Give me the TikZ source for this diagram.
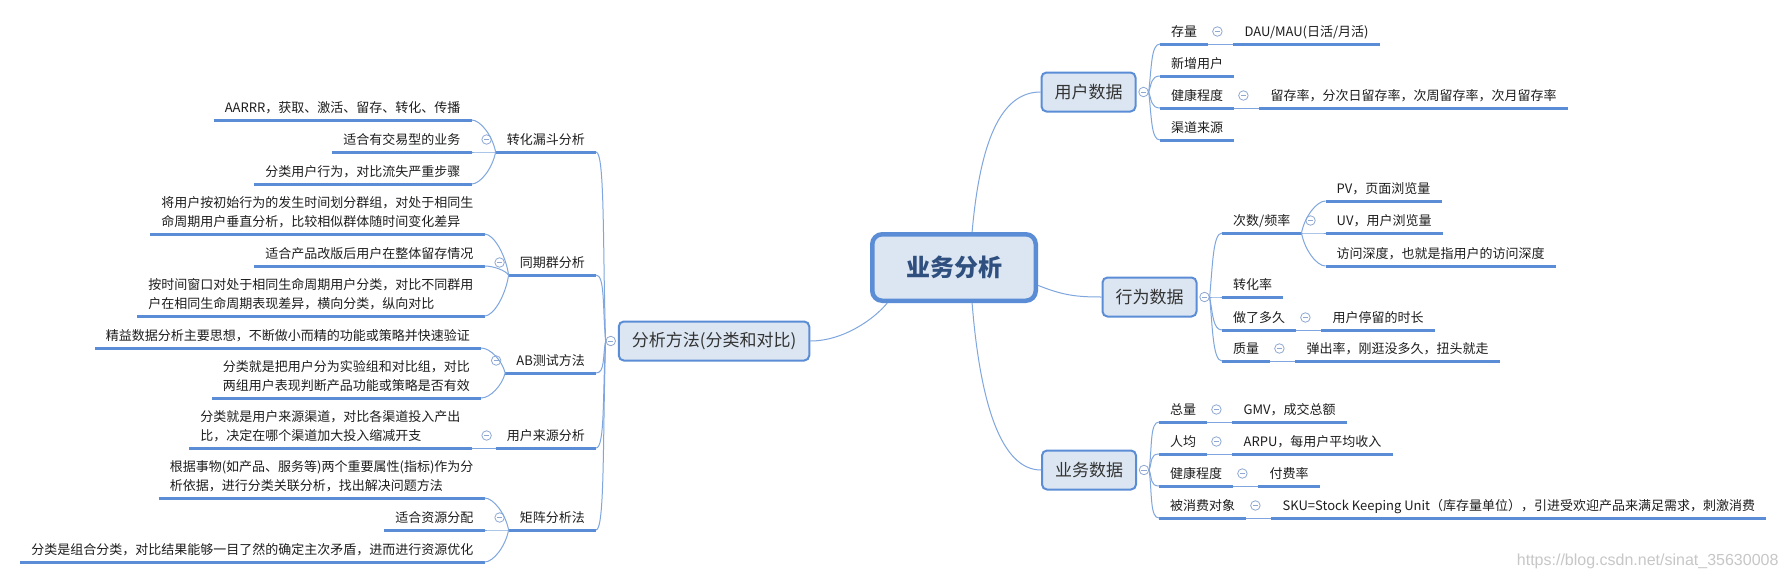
\documentclass[tikz,border=0pt]{standalone}
\usepackage{fontspec}
\newfontfamily\cjk{Noto Sans CJK SC}
\newfontfamily\wmfont{Liberation Sans}
\usepackage{tikz}
\usetikzlibrary{calc}
\usetikzlibrary{positioning}
\definecolor{lineblue}{HTML}{5B8DD6}
\definecolor{linkblue}{HTML}{7FA6DE}
\definecolor{boxfill}{HTML}{DCE6F2}
\definecolor{hubtext}{HTML}{2F4F7F}
\definecolor{boxtext}{HTML}{333333}
\definecolor{foldgray}{HTML}{8EA8D2}
\definecolor{inktext}{HTML}{1E1E1E}

\begin{document}
\begin{tikzpicture}[x=1pt,y=-1pt,font=\cjk\fontsize{13pt}{19pt}\selectfont,
      hub style/.style={rectangle,rounded corners=10pt,draw=lineblue,line width=4.5pt,
        fill=boxfill,minimum width=163.5pt,minimum height=66.5pt,text=hubtext,
        font=\cjk\bfseries\fontsize{24pt}{28pt}\selectfont},
      branch style/.style={rectangle,rounded corners=5pt,draw=lineblue,line width=2pt,
        fill=boxfill,inner xsep=13pt,minimum height=39pt,text=boxtext,
        font=\cjk\fontsize{17pt}{20pt}\selectfont},
      topic style/.style={inner xsep=11pt,inner ysep=4.5pt,align=left,text=inktext,
        execute at end node={\rule[-3pt]{0pt}{3pt}},
        append after command={\pgfextra{\let\topicnode\tikzlastnode}
          (\topicnode.south west) edge[uline style] (\topicnode.south east)}},
      uline style/.style={draw=lineblue,line width=3pt},
      link style/.style={draw=linkblue,line width=1pt},
      fold style/.style={circle,draw=foldgray,line width=0.8pt,fill=white,inner sep=0pt,
        minimum size=9.5pt,path picture={\draw[foldgray,line width=0.8pt]
          ([xshift=-2.6pt]path picture bounding box.center) --
          ([xshift=2.6pt]path picture bounding box.center);}},
      brace/.style={to path={let \p1=(\tikztostart),\p2=(\tikztotarget) in
        .. controls (\x1+3pt,{(\y1+\y2)/2}) and (\x2-9pt,\y2) .. (\tikztotarget)}},
      brace left/.style={to path={let \p1=(\tikztostart),\p2=(\tikztotarget) in
        .. controls (\x1-3pt,{(\y1+\y2)/2}) and (\x2+9pt,\y2) .. (\tikztotarget)}},
      mark style/.style={text=black!22,font=\wmfont\fontsize{16pt}{18pt}\selectfont}
      ]
      \path[use as bounding box,fill=white] (0,0) rectangle (1792,579);

      % centre and main branches
      \node[hub style] (hub) at (954,267.5) {业务分析};
      \node[branch style] (method) at (714,341) {分析方法(分类和对比)};
      \node[branch style] (user) at (1088.5,92) {用户数据};
      \node[branch style] (behav) at (1149.5,297) {行为数据};
      \node[branch style] (biz) at (1089,470) {业务数据};

      \draw[link style] (hub.63) .. controls +(8,-90) and +(-40,0) .. (user.west);
      \draw[link style] (hub.-12) .. controls +(25,10) and +(-25,0) .. (behav.west);
      \draw[link style] (hub.-63) .. controls +(8,100) and +(-40,0) .. (biz.west);
      \draw[link style] (hub.-152) .. controls +(-12,15) and +(34,0) .. (method.east);

      \node[fold style] (fold-method) at ($(method.west)+(-7,0)$) {};
      \node[fold style] (fold-user) at ($(user.east)+(7,0)$) {};
      \node[fold style] (fold-behav) at ($(behav.east)+(7,0)$) {};
      \node[fold style] (fold-biz) at ($(biz.east)+(7,0)$) {};

      % left side
      \node[topic style,anchor=south east] (fun) at (596,152) {转化漏斗分析};
      \node[topic style,anchor=south east] (cohort) at (596,275) {同期群分析};
      \node[topic style,anchor=south east] (abtest) at (596,373) {AB测试方法};
      \node[topic style,anchor=south east] (origin) at (596,448) {用户来源分析};
      \node[topic style,anchor=south east] (matrix) at (596,530) {矩阵分析法};

      \node[topic style,anchor=south east] (aarrr) at ($(fun.south west)+(-24,-32)$)
        {AARRR，获取、激活、留存、转化、传播};
      \node[topic style,anchor=south east] (trade) at ($(fun.south west)+(-24,0)$)
        {适合有交易型的业务};
      \node[topic style,anchor=south east] (steps) at ($(fun.south west)+(-24,32)$)
        {分类用户行为，对比流失严重步骤};

      \node[topic style,anchor=south east] (cohortdef) at ($(cohort.south west)+(-24,-41)$)
        {将用户按初始行为的发生时间划分群组，对处于相同生\\命周期用户垂直分析，比较相似群体随时间变化差异};
      \node[topic style,anchor=south east] (revision) at ($(cohort.south west)+(-24,-9)$)
        {适合产品改版后用户在整体留存情况};
      \node[topic style,anchor=south east] (window) at ($(cohort.south west)+(-24,41)$)
        {按时间窗口对处于相同生命周期用户分类，对比不同群用\\户在相同生命周期表现差异，横向分类，纵向对比};

      \node[topic style,anchor=south east] (lean) at ($(abtest.south west)+(-24,-25)$)
        {精益数据分析主要思想，不断做小而精的功能或策略并快速验证};
      \node[topic style,anchor=south east] (groups) at ($(abtest.south west)+(-24,25)$)
        {分类就是把用户分为实验组和对比组，对比\\两组用户表现判断产品功能或策略是否有效};

      \node[topic style,anchor=south east] (channel) at ($(origin.south west)+(-24,0)$)
        {分类就是用户来源渠道，对比各渠道投入产出\\比，决定在哪个渠道加大投入缩减开支};

      \node[topic style,anchor=south east] (attrs) at ($(matrix.south west)+(-24,-32)$)
        {根据事物(如产品、服务等)两个重要属性(指标)作为分\\析依据，进行分类关联分析，找出解决问题方法};
      \node[topic style,anchor=south east] (alloc) at ($(matrix.south west)+(-24,0)$)
        {适合资源分配};
      \node[topic style,anchor=south east] (combo) at ($(matrix.south west)+(-24,32)$)
        {分类是组合分类，对比结果能够一目了然的确定主次矛盾，进而进行资源优化};

      \node[fold style] (fold-fun) at ($(fun.south west)+(-9,-12.5)$) {};
      \node[fold style] (fold-cohort) at ($(cohort.south west)+(-9,-12.5)$) {};
      \node[fold style] (fold-abtest) at ($(abtest.south west)+(-9,-12.5)$) {};
      \node[fold style] (fold-origin) at ($(origin.south west)+(-9,-12.5)$) {};
      \node[fold style] (fold-matrix) at ($(matrix.south west)+(-9,-12.5)$) {};

      \draw[link style] (fold-method.west) to[brace left] (fun.south east);
      \draw[link style] (fold-method.west) to[brace left] (cohort.south east);
      \draw[link style] (fold-method.west) to[brace left] (abtest.south east);
      \draw[link style] (fold-method.west) to[brace left] (origin.south east);
      \draw[link style] (fold-method.west) to[brace left] (matrix.south east);

      \draw[link style] (fun.south west) to[brace left] (aarrr.south east);
      \draw[link style] (fun.south west) to[brace left] (trade.south east);
      \draw[link style] (fun.south west) to[brace left] (steps.south east);
      \draw[link style] (cohort.south west) to[brace left] (cohortdef.south east);
      \draw[link style] (cohort.south west) to[brace left] (revision.south east);
      \draw[link style] (cohort.south west) to[brace left] (window.south east);
      \draw[link style] (abtest.south west) to[brace left] (lean.south east);
      \draw[link style] (abtest.south west) to[brace left] (groups.south east);
      \draw[link style] (origin.south west) -- (channel.south east);
      \draw[link style] (matrix.south west) to[brace left] (attrs.south east);
      \draw[link style] (matrix.south west) to[brace left] (alloc.south east);
      \draw[link style] (matrix.south west) to[brace left] (combo.south east);

      % user data
      \node[topic style,anchor=south west] (stock) at (1160,44) {存量};
      \node[topic style,anchor=south west] (newusr) at (1160,76) {新增用户};
      \node[topic style,anchor=south west] (health) at (1160,108) {健康程度};
      \node[topic style,anchor=south west] (chan) at (1160,140) {渠道来源};
      \node[topic style,right=25pt of stock.south east,anchor=south west] (dau)
        {DAU/MAU(日活/月活)};
      \node[topic style,right=25pt of health.south east,anchor=south west] (retain)
        {留存率，分次日留存率，次周留存率，次月留存率};
      \node[fold style] (fold-stock) at ($(stock.south east)+(9,-12.5)$) {};
      \node[fold style] (fold-health) at ($(health.south east)+(9,-12.5)$) {};

      \draw[link style] (fold-user.east) to[brace] (stock.south west);
      \draw[link style] (fold-user.east) to[brace] (newusr.south west);
      \draw[link style] (fold-user.east) to[brace] (health.south west);
      \draw[link style] (fold-user.east) to[brace] (chan.south west);
      \draw[link style] (stock.south east) -- (dau.south west);
      \draw[link style] (health.south east) -- (retain.south west);

      % behaviour data
      \node[topic style,anchor=south west] (freq) at (1222,233) {次数/频率};
      \node[topic style,anchor=south west] (conv) at (1222,297) {转化率};
      \node[topic style,anchor=south west] (dur) at (1222,330) {做了多久};
      \node[topic style,anchor=south west] (qual) at (1222,361) {质量};
      \node[topic style,anchor=south west] (pv) at ($(freq.south east)+(24,-32)$)
        {PV，页面浏览量};
      \node[topic style,anchor=south west] (uv) at ($(freq.south east)+(24,0)$)
        {UV，用户浏览量};
      \node[topic style,anchor=south west] (depth) at ($(freq.south east)+(24,33)$)
        {访问深度，也就是指用户的访问深度};
      \node[topic style,right=25pt of dur.south east,anchor=south west] (stay)
        {用户停留的时长};
      \node[topic style,right=25pt of qual.south east,anchor=south west] (bounce)
        {弹出率，刚逛没多久，扭头就走};
      \node[fold style] (fold-freq) at ($(freq.south east)+(9,-12.5)$) {};
      \node[fold style] (fold-dur) at ($(dur.south east)+(9,-12.5)$) {};
      \node[fold style] (fold-qual) at ($(qual.south east)+(9,-12.5)$) {};

      \draw[link style] (fold-behav.east) to[brace] (freq.south west);
      \draw[link style] (fold-behav.east) to[brace] (conv.south west);
      \draw[link style] (fold-behav.east) to[brace] (dur.south west);
      \draw[link style] (fold-behav.east) to[brace] (qual.south west);
      \draw[link style] (freq.south east) to[brace] (pv.south west);
      \draw[link style] (freq.south east) to[brace] (uv.south west);
      \draw[link style] (freq.south east) to[brace] (depth.south west);
      \draw[link style] (dur.south east) -- (stay.south west);
      \draw[link style] (qual.south east) -- (bounce.south west);

      % business data
      \node[topic style,anchor=south west] (total) at (1159,422) {总量};
      \node[topic style,anchor=south west] (avg) at (1159,454) {人均};
      \node[topic style,anchor=south west] (bhealth) at (1159,486) {健康程度};
      \node[topic style,anchor=south west] (target) at (1159,518) {被消费对象};
      \node[topic style,right=25pt of total.south east,anchor=south west] (gmv)
        {GMV，成交总额};
      \node[topic style,right=25pt of avg.south east,anchor=south west] (arpu)
        {ARPU，每用户平均收入};
      \node[topic style,right=25pt of bhealth.south east,anchor=south west] (pay)
        {付费率};
      \node[topic style,right=25pt of target.south east,anchor=south west] (sku)
        {SKU=Stock Keeping Unit（库存量单位），引进受欢迎产品来满足需求，刺激消费};
      \node[fold style] (fold-total) at ($(total.south east)+(9,-12.5)$) {};
      \node[fold style] (fold-avg) at ($(avg.south east)+(9,-12.5)$) {};
      \node[fold style] (fold-bhealth) at ($(bhealth.south east)+(9,-12.5)$) {};
      \node[fold style] (fold-target) at ($(target.south east)+(9,-12.5)$) {};

      \draw[link style] (fold-biz.east) to[brace] (total.south west);
      \draw[link style] (fold-biz.east) to[brace] (avg.south west);
      \draw[link style] (fold-biz.east) to[brace] (bhealth.south west);
      \draw[link style] (fold-biz.east) to[brace] (target.south west);
      \draw[link style] (total.south east) -- (gmv.south west);
      \draw[link style] (avg.south east) -- (arpu.south west);
      \draw[link style] (bhealth.south east) -- (pay.south west);
      \draw[link style] (target.south east) -- (sku.south west);

      \node[mark style,anchor=east] (mark) at (1782,561) {https://blog.csdn.net/sinat\_35630008};
\end{tikzpicture}
\end{document}
